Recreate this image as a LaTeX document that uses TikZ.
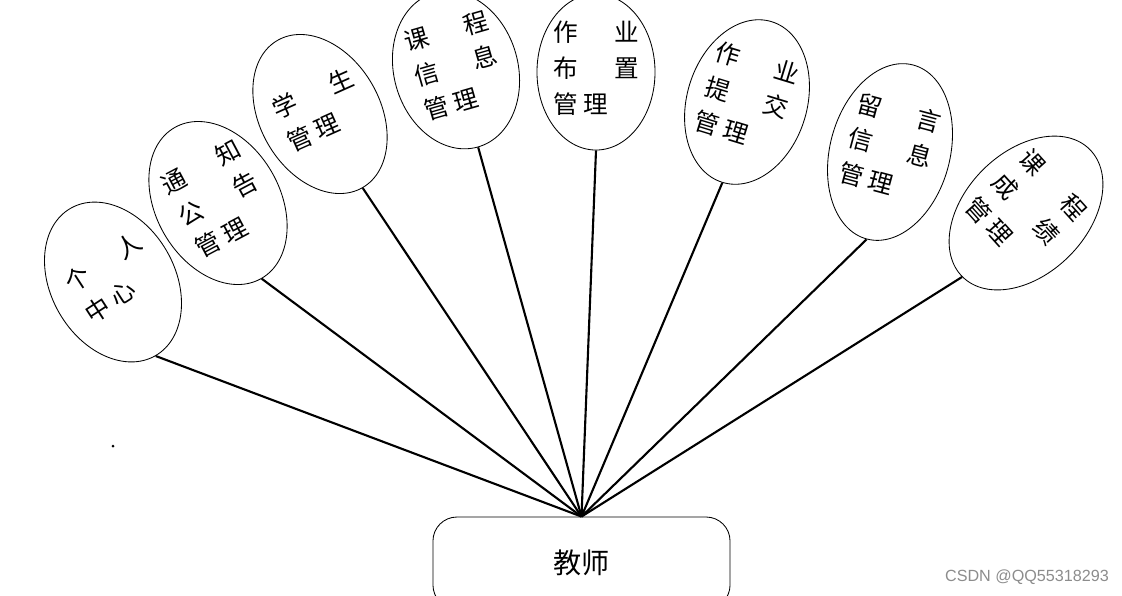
\documentclass[tikz,border=0pt]{standalone}
\usepackage{fontspec}
\newfontfamily\cjk{Noto Sans CJK SC}
\setsansfont{Liberation Sans}
\usepackage{tikz}
\usetikzlibrary{shapes.geometric}

% ein Zeichen pro Zelle
\newcommand{\zi}[1]{\makebox[0.76cm]{#1}}

\begin{document}
\begin{tikzpicture}[x=0.025cm, y=-0.025cm,
    oval/.style={draw, line width=0.6pt, shape=ellipse, inner sep=0pt},
    txt/.style={font=\cjk\fontsize{17.5}{25.6}\selectfont, align=left, inner sep=0pt, yshift=3pt},
    link/.style={line width=1.5pt}]

\useasboundingbox (0,0) rectangle (1122,595);
\clip (0,0) rectangle (1122,595);

% Lehrer (unten)
\node[draw, line width=0.6pt, rounded corners=0.6cm, minimum width=7.425cm,
      minimum height=2.3cm, font=\cjk\fontsize{20}{22}\selectfont] (js) at (581.5,563) {教师};

% Ellipsen der Funktionen
\node[oval, minimum width=3.1cm, minimum height=4.25cm, rotate=30] (grzx) at (113,282) {};
\node[oval, minimum width=3.1cm, minimum height=4.35cm, rotate=30] (tzgg) at (218,203) {};
\node[oval, minimum width=3.0cm, minimum height=4.25cm, rotate=30] (xsgl) at (320,114) {};
\node[oval, minimum width=3.1cm, minimum height=4.0cm, rotate=16] (kcxx) at (456,70) {};
\node[oval, minimum width=2.95cm, minimum height=3.9cm] (zybz) at (596,72) {};
\node[oval, minimum width=3.0cm, minimum height=4.2cm, rotate=-17] (zytj) at (747,102) {};
\node[oval, minimum width=3.0cm, minimum height=4.5cm, rotate=-15] (lyxx) at (890,152) {};
\node[oval, minimum width=3.05cm, minimum height=4.5cm, rotate=-45] (kccj) at (1026,213) {};

% Beschriftungen
\node[txt, rotate=33] (grzx-t) at (grzx) {\zi{个}\zi{}\zi{人}\\\zi{中}\zi{心}};
\node[txt, rotate=28] (tzgg-t) at (tzgg) {\zi{通}\zi{}\zi{知}\\\zi{公}\zi{}\zi{告}\\\zi{管}\zi{理}};
\node[txt, rotate=24] (xsgl-t) at (xsgl) {\zi{学}\zi{}\zi{生}\\\zi{管}\zi{理}};
\node[txt, rotate=16] (kcxx-t) at (kcxx) {\zi{课}\zi{}\zi{程}\\\zi{信}\zi{}\zi{息}\\\zi{管}\zi{理}};
\node[txt] (zybz-t) at (zybz) {\zi{作}\zi{}\zi{业}\\\zi{布}\zi{}\zi{置}\\\zi{管}\zi{理}};
\node[txt, rotate=-17] (zytj-t) at (zytj) {\zi{作}\zi{}\zi{业}\\\zi{提}\zi{}\zi{交}\\\zi{管}\zi{理}};
\node[txt, rotate=-15] (lyxx-t) at (lyxx) {\zi{留}\zi{}\zi{言}\\\zi{信}\zi{}\zi{息}\\\zi{管}\zi{理}};
\node[txt, rotate=-48] (kccj-t) at (kccj) {\zi{课}\zi{}\zi{程}\\\zi{成}\zi{}\zi{绩}\\\zi{管}\zi{理}};

% Verbindungen zum Lehrer
\foreach \n in {grzx,tzgg,xsgl,kcxx,zybz,zytj,lyxx,kccj}
    \draw[link] (\n.south) -- (js.north);

% Punkt und Wasserzeichen
\fill (113,446) circle (1.5);
\node[font=\sffamily\fontsize{11.5}{13}\selectfont, text=black!45] (csdn) at (1027,577) {CSDN @QQ55318293};

\end{tikzpicture}
\end{document}
